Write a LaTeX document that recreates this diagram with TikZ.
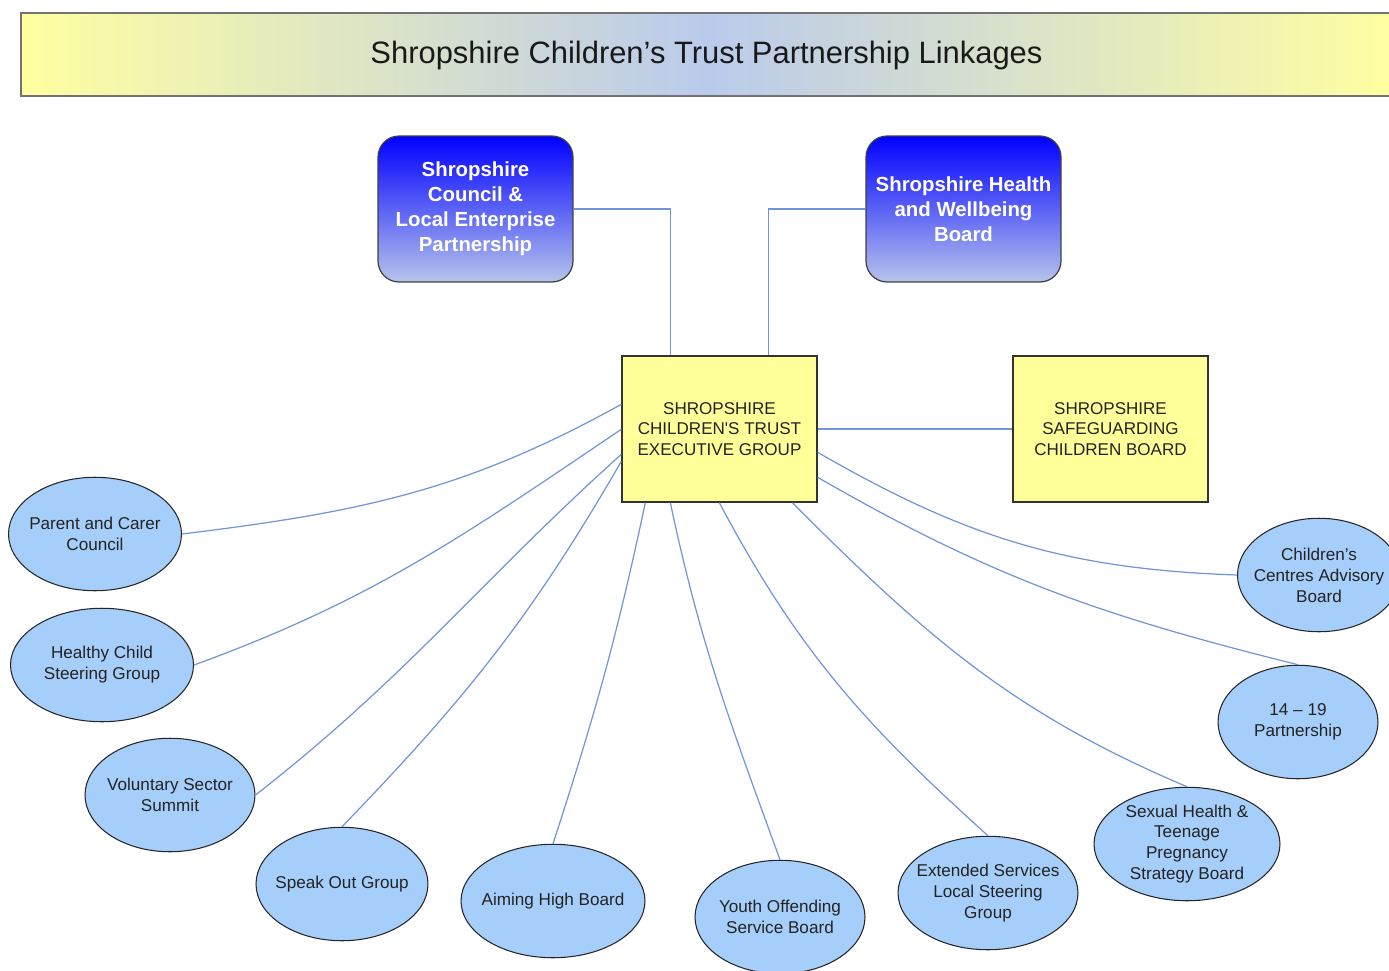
\documentclass[tikz,border=0pt]{standalone}
\usepackage{fontspec}
\setmainfont{Liberation Sans}
\usetikzlibrary{shapes.geometric,calc}
\definecolor{ellfill}{RGB}{166,206,250}
\definecolor{boxyellow}{RGB}{255,255,153}
\definecolor{connblue}{RGB}{112,150,215}
\definecolor{bluetop}{RGB}{0,0,255}
\definecolor{bluebot}{RGB}{182,196,235}
\definecolor{titleyellow}{RGB}{255,255,160}
\definecolor{titleblue}{RGB}{186,202,236}
\definecolor{txtgray}{RGB}{35,35,35}
\begin{document}
\begin{tikzpicture}[x=0.02cm,y=-0.02cm,
  conn/.style={draw=connblue,line width=0.7pt},
  ell/.style={ellipse,draw=black!85,fill=ellfill,line width=0.6pt,inner sep=0pt,minimum height=2.27cm},
  lbl/.style={text=txtgray,align=center,font=\fontsize{9.75}{11.9}\selectfont},
  ybox/.style={draw=black!80,fill=boxyellow,line width=0.8pt,minimum width=3.9cm,minimum height=2.92cm,align=center,text=txtgray,font=\fontsize{9.7}{11.6}\selectfont},
  bbox/.style={draw=black!75,line width=0.7pt,rounded corners=0.42cm,top color=bluetop,bottom color=bluebot,minimum width=3.9cm,minimum height=2.92cm,align=center,text=white,font=\bfseries\fontsize{11.6}{14.2}\selectfont}]
\useasboundingbox (0,0) rectangle (1389,970);
\begin{scope}
\clip (0,0) rectangle (1389,970);
% title
\draw[draw=black!55,line width=1pt,left color=titleyellow,right color=titleyellow,middle color=titleblue] (21,13) rectangle (1395,96);
\node[text=black!90,font=\fontsize{17.6}{21}\selectfont] (title) at (706.5,56) {Shropshire Children’s Trust Partnership Linkages};
% upper boxes
\node[bbox] (council) at (475.5,209) {Shropshire\\Council \&\\Local Enterprise\\Partnership};
\node[bbox] (health) at (963.5,209) {Shropshire Health\\and Wellbeing\\Board};
\node[ybox] (exec) at (719.5,429) {SHROPSHIRE\\CHILDREN\textquotesingle S TRUST\\EXECUTIVE GROUP};
\node[ybox] (safe) at (1110.5,429) {SHROPSHIRE\\SAFEGUARDING\\CHILDREN BOARD};
% ellipses
\node[ell,minimum width=3.46cm,label={[lbl]center:Parent and Carer\\Council}] (parent) at (95,534) {};
\node[ell,minimum width=3.66cm,label={[lbl]center:Healthy Child\\Steering Group}] (healthy) at (102,665) {};
\node[ell,minimum width=3.40cm,label={[lbl]center:Voluntary Sector\\Summit}] (vol) at (170,795) {};
\node[ell,minimum width=3.44cm,label={[lbl]center:Speak Out Group}] (speak) at (342,884) {};
\node[ell,minimum width=3.68cm,label={[lbl]center:Aiming High Board}] (aiming) at (553,901) {};
\node[ell,minimum width=3.40cm,label={[lbl]center:Youth Offending\\Service Board}] (youth) at (780,917) {};
\node[ell,minimum width=3.60cm,label={[lbl]center:Extended Services\\Local Steering\\Group}] (ext) at (988,893) {};
\node[ell,minimum width=3.72cm,label={[lbl]center:Sexual Health \&\\Teenage\\Pregnancy\\Strategy Board}] (sexual) at (1187,844) {};
\node[ell,minimum width=3.20cm,label={[lbl]center:14 – 19\\Partnership}] (fourteen) at (1298,722) {};
\node[ell,minimum width=3.26cm,label={[lbl]center:Children’s\\Centres Advisory\\Board}] (centres) at (1319,575) {};
% connectors
\draw[conn] (council.east) -| ($(exec.north)+(-49,0)$);
\draw[conn] (health.west) -| ($(exec.north)+(49,0)$);
\draw[conn] (exec.east) -- (safe.west);
\draw[conn] ($(exec.north west)+(0,49)$) to[out=209,in=7] (parent.east);
\draw[conn] ($(exec.north west)+(0,74)$) to[out=214,in=20] (healthy.east);
\draw[conn] ($(exec.north west)+(0,99)$) to[out=222,in=38] (vol.east);
\draw[conn] ($(exec.north west)+(0,106)$) to[out=240,in=46] (speak.north);
\draw[conn] ($(exec.south west)+(24,0)$) to[out=258,in=72] (aiming.north);
\draw[conn] ($(exec.south west)+(49,0)$) to[out=282,in=110] (youth.north);
\draw[conn] ($(exec.south west)+(98,0)$) to[out=-62,in=138] (ext.north);
\draw[conn] ($(exec.south west)+(171,0)$) to[out=-45,in=157] (sexual.north);
\draw[conn] ($(exec.north east)+(0,122)$) to[out=-30,in=166] (fourteen.north);
\draw[conn] ($(exec.north east)+(0,97)$) to[out=-30,in=178] (centres.west);
\end{scope}
\end{tikzpicture}
\end{document}
